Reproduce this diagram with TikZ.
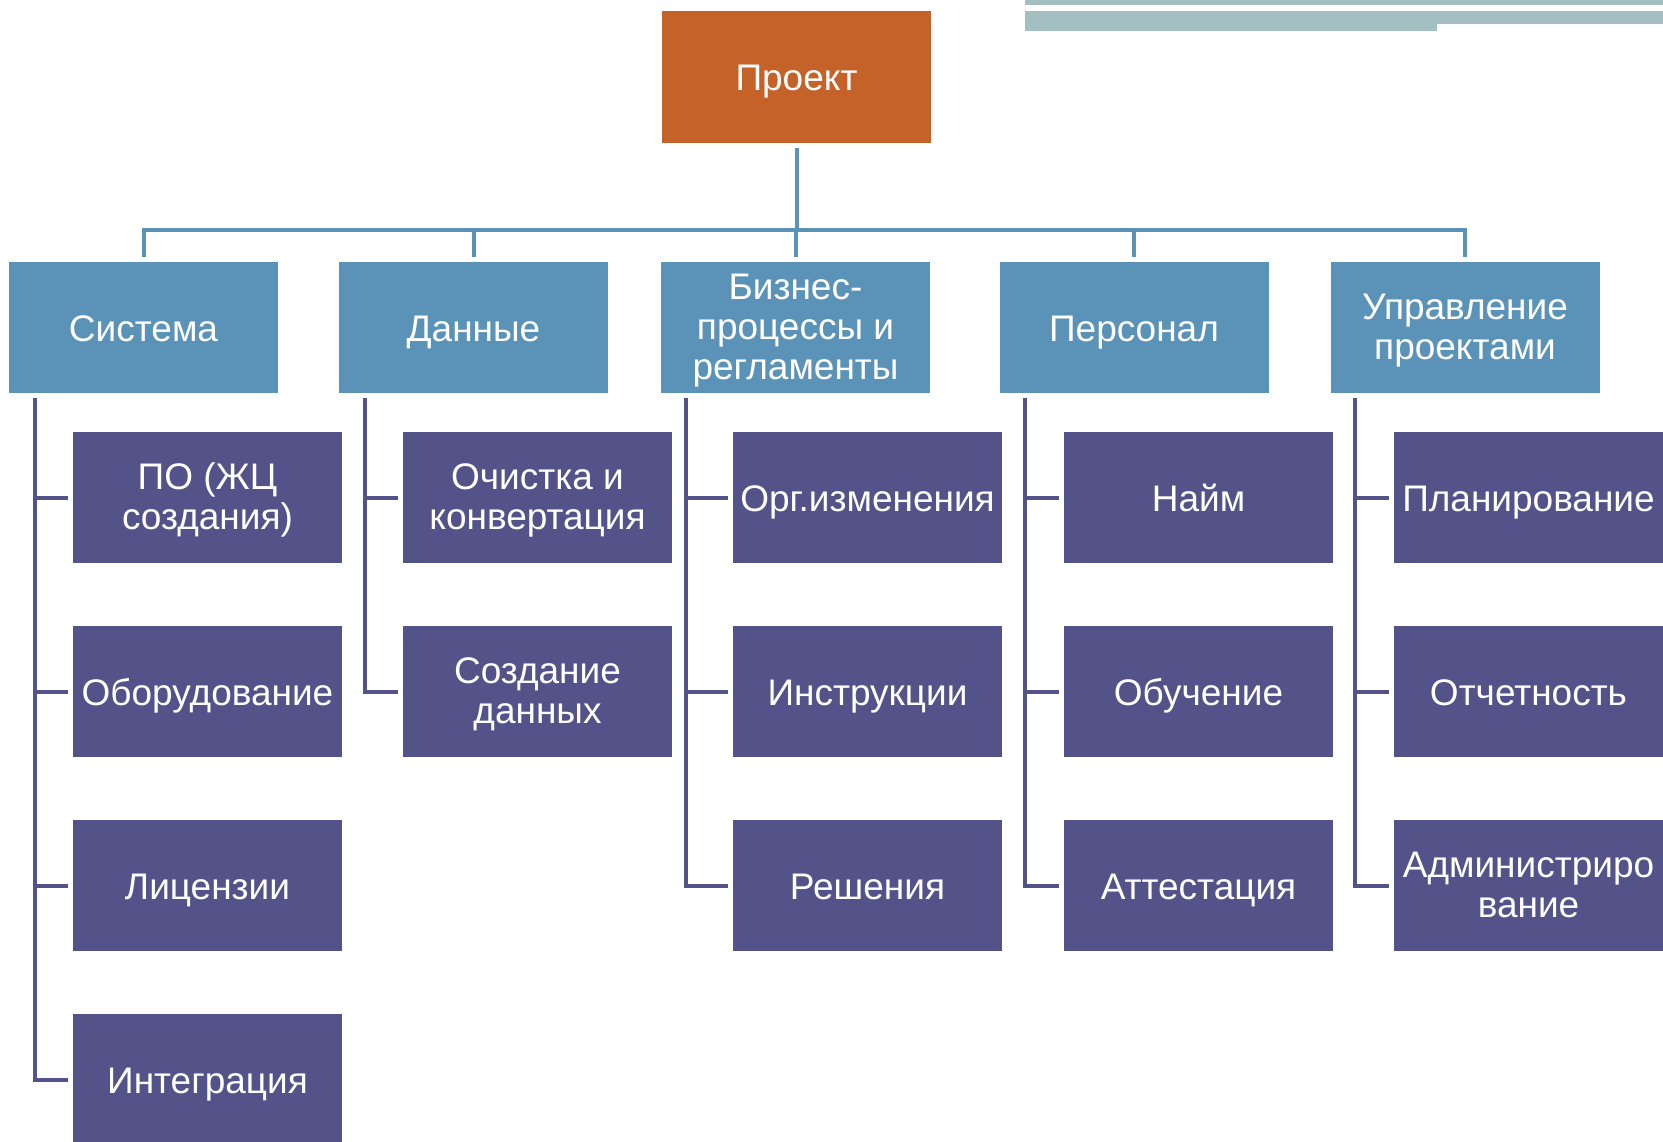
\documentclass[tikz,border=0pt]{standalone}
\usepackage{fontspec}
\setmainfont{Liberation Sans}
\usetikzlibrary{calc}
\definecolor{orng}{HTML}{C4622A}
\definecolor{bluec}{HTML}{5B93B8}
\definecolor{purp}{HTML}{535289}
\definecolor{decoc}{HTML}{A3BFC2}
\newcommand\mltext[1]{\raisebox{-4pt}[\height][\depth]{\begin{tabular}{@{}c@{}}#1\end{tabular}}}
\begin{document}
\begin{tikzpicture}[x=1pt,y=-1pt,
 box/.style={rectangle, minimum width=269pt, minimum height=131pt, inner sep=2pt, text=white, font=\fontsize{37}{40}\selectfont},
 oneline/.style={text height=30pt, text depth=3pt},
 topbox/.style={box, fill=orng, minimum height=132pt},
 lvlbox/.style={box, fill=bluec},
 subbox/.style={box, fill=purp},
 bline/.style={draw=bluec, line width=4pt},
 pline/.style={draw=purp, line width=4pt},
 deco/.style={fill=decoc}]
\useasboundingbox (0,0) rectangle (1663,1142);
\clip (0,0) rectangle (1663,1142);
% decorative bars
\fill[deco] (1025,0) rectangle (1663,5);
\fill[deco] (1025,11) rectangle (1437,31);
\fill[deco] (1437,11) rectangle (1663,24);
% top
\node[topbox,oneline] (proj) at (796.5,77) {Проект};
% level 1
\node[lvlbox,oneline] (sys) at (143.5,327.5) {Система};
\node[lvlbox,oneline] (dat) at (473.5,327.5) {Данные};
\node[lvlbox] (biz) at (795.5,327.5) {\mltext{Бизнес-\\процессы и\\регламенты}};
\node[lvlbox,oneline] (per) at (1134,327.5) {Персонал};
\node[lvlbox] (upr) at (1465,327.5) {\mltext{Управление\\проектами}};
% level 2
\node[subbox] (s1) at (207.5,497.5) {\mltext{ПО (ЖЦ\\создания)}};
\node[subbox,oneline] (s2) at (207.5,691.5) {Оборудование};
\node[subbox,oneline] (s3) at (207.5,885.5) {Лицензии};
\node[subbox,oneline] (s4) at (207.5,1079.5) {Интеграция};
\node[subbox] (d1) at (537.5,497.5) {\mltext{Очистка и\\конвертация}};
\node[subbox] (d2) at (537.5,691.5) {\mltext{Создание\\данных}};
\node[subbox,oneline] (b1) at (867.5,497.5) {Орг.изменения};
\node[subbox,oneline] (b2) at (867.5,691.5) {Инструкции};
\node[subbox,oneline] (b3) at (867.5,885.5) {Решения};
\node[subbox,oneline] (p1) at (1198.5,497.5) {Найм};
\node[subbox,oneline] (p2) at (1198.5,691.5) {Обучение};
\node[subbox,oneline] (p3) at (1198.5,885.5) {Аттестация};
\node[subbox,oneline] (u1) at (1528.5,497.5) {Планирование};
\node[subbox,oneline] (u2) at (1528.5,691.5) {Отчетность};
\node[subbox] (u3) at (1528.5,885.5) {\mltext{Администриро\\вание}};
% blue connectors
\foreach \n in {sys,dat,biz,per,upr}
  \draw[bline] ([yshift=-5pt]proj.south) -- ++(0,82) -| ([yshift=5pt]\n.north);
% purple connectors
\coordinate (sysv) at ($(sys.south west)+(26,5)$);
\coordinate (datv) at ($(dat.south west)+(26,5)$);
\coordinate (bizv) at ($(biz.south west)+(25,5)$);
\coordinate (perv) at ($(per.south west)+(26,5)$);
\coordinate (uprv) at ($(upr.south west)+(25,5)$);
\foreach \c in {s1,s2,s3,s4} \draw[pline] (sysv) |- ([xshift=-5pt]\c.west);
\foreach \c in {d1,d2} \draw[pline] (datv) |- ([xshift=-5pt]\c.west);
\foreach \c in {b1,b2,b3} \draw[pline] (bizv) |- ([xshift=-5pt]\c.west);
\foreach \c in {p1,p2,p3} \draw[pline] (perv) |- ([xshift=-5pt]\c.west);
\foreach \c in {u1,u2,u3} \draw[pline] (uprv) |- ([xshift=-5pt]\c.west);
\end{tikzpicture}
\end{document}
